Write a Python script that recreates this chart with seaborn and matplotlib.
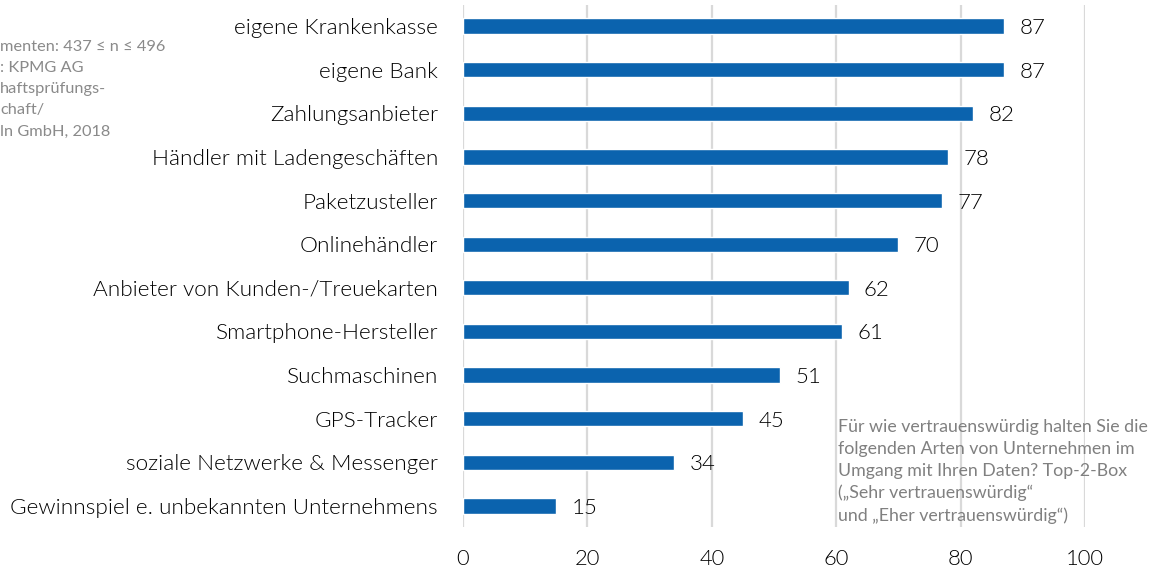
import matplotlib
matplotlib.use("Agg")
import matplotlib.pyplot as plt
import matplotlib.transforms as mtransforms
import seaborn as sns
import pandas as pd

categories = [
    "eigene Krankenkasse",
    "eigene Bank",
    "Zahlungsanbieter",
    "Händler mit Ladengeschäften",
    "Paketzusteller",
    "Onlinehändler",
    "Anbieter von Kunden-/Treuekarten",
    "Smartphone-Hersteller",
    "Suchmaschinen",
    "GPS-Tracker",
    "soziale Netzwerke & Messenger",
    "Gewinnspiel e. unbekannten Unternehmens",
]
values = [87, 87, 82, 78, 77, 70, 62, 61, 51, 45, 34, 15]
x_ticks = [0, 20, 40, 60, 80, 100]

source_lines = [
    "menten: 437 ≤ n ≤ 496",
    ": KPMG AG",
    "haftsprüfungs-",
    "chaft/",
    "ln GmbH, 2018",
]
note_text = ("Für wie vertrauenswürdig halten Sie die\n"
             "folgenden Arten von Unternehmen im\n"
             "Umgang mit Ihren Daten? Top-2-Box\n"
             "(„Sehr vertrauenswürdig“\n"
             "und „Eher vertrauenswürdig“)")

df = pd.DataFrame({"cat": categories, "val": values})

sns.set_theme(style="white")
plt.rcParams["font.family"] = ["Lato", "DejaVu Sans"]

LIGHT = 300

fig = plt.figure(figsize=(11.5, 5.71), dpi=100)
ax = fig.add_axes([463/1150, 1 - 527/571, (1085 - 463)/1150, (527 - 5)/571])

sns.barplot(data=df, x="val", y="cat", color="#0b63ae", width=0.35,
            orient="h", ax=ax, zorder=3, saturation=1)

ax.set_xlim(0, 100)
ax.set_ylim(11.48, -0.48)
ax.set_xticks(x_ticks)
ax.set_xticklabels([str(t) for t in x_ticks])
ax.set_xlabel("")
ax.set_ylabel("")
for s in ax.spines.values():
    s.set_visible(False)
ax.grid(axis="x", color="#d9d9d9", linewidth=1.6, zorder=0)
ax.grid(axis="y", visible=False)
ax.tick_params(axis="y", length=0, pad=18, labelsize=16.2, labelcolor="#000000")
ax.tick_params(axis="x", length=0, pad=16, labelsize=15.8, labelcolor="#000000")
for lbl in ax.get_yticklabels() + ax.get_xticklabels():
    lbl.set_fontweight(LIGHT)

for c in ax.containers:
    labels = ax.bar_label(c, fmt="%d", padding=11, fontsize=16, color="#000000")
    for l in labels:
        l.set_va("center_baseline")
        l.set_fontweight(LIGHT)
        l.set_transform(l.get_transform() + mtransforms.ScaledTranslation(0, -2/100, fig.dpi_scale_trans))

fig.text(0.0, 1 - 40/571, "\n".join(source_lines), ha="left", va="top",
         fontsize=11.8, color="#8a8a8a", linespacing=1.65)

fig.text(838/1150, 1 - 419/571, note_text, ha="left", va="top",
         fontsize=12.8, color="#808080", linespacing=1.45, zorder=5)

fig.savefig("out.png", dpi=100)
